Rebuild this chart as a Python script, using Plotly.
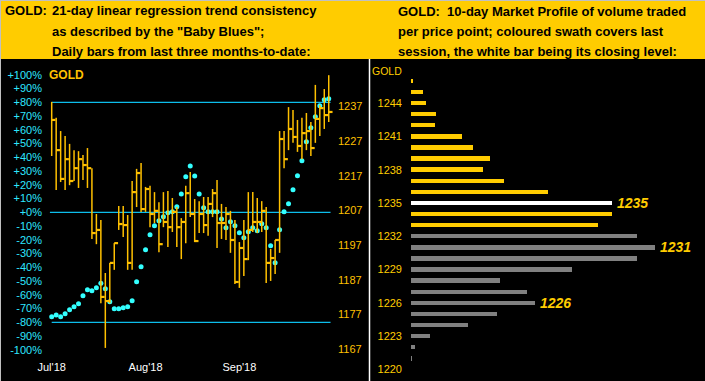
import plotly.graph_objects as go

W, H = 705, 381

# ---------------- data ----------------
months = ["Jul'18", "Aug'18", "Sep'18"]
month_pos = [0, 21, 42]

high = [1238.3, 1233.7, 1229.9, 1228.5, 1226.2, 1224.4, 1224.1, 1223.0, 1225.0, 1219.2,
        1206.0, 1204.3, 1189.0, 1191.9, 1197.6, 1208.3, 1208.3, 1205.7, 1215.5, 1219.0,
        1220.7, 1213.8, 1214.1, 1212.3, 1209.4, 1212.3, 1212.6, 1210.6, 1208.0, 1204.8,
        1214.1, 1218.1, 1210.3, 1209.7, 1210.9, 1210.9, 1213.2, 1215.8, 1208.9, 1208.0,
        1206.9, 1204.3, 1197.9, 1204.3, 1212.3, 1212.3, 1210.6, 1209.7, 1208.0, 1195.9,
        1198.5, 1229.9, 1229.9, 1236.8, 1236.0, 1233.1, 1233.7, 1235.1, 1232.5, 1243.2,
        1237.4, 1242.0, 1246.0]
low = [1222.7, 1212.9, 1215.2, 1212.9, 1214.3, 1215.5, 1213.5, 1215.8, 1213.5, 1198.8,
       1197.3, 1180.3, 1167.4, 1180.3, 1189.9, 1201.4, 1199.4, 1189.9, 1189.9, 1208.0,
       1206.6, 1206.6, 1202.2, 1203.4, 1195.0, 1202.2, 1196.5, 1200.8, 1196.5, 1193.0,
       1197.6, 1205.1, 1197.9, 1200.5, 1200.5, 1199.7, 1205.1, 1196.2, 1198.8, 1198.5,
       1194.8, 1185.8, 1184.7, 1188.1, 1192.7, 1200.8, 1200.5, 1200.8, 1186.1, 1186.7,
       1188.7, 1194.8, 1219.2, 1224.4, 1226.5, 1223.9, 1221.8, 1224.4, 1222.7, 1226.5,
       1228.5, 1230.5, 1232.5]
close = [1233.1, 1224.4, 1216.1, 1221.8, 1215.5, 1219.2, 1221.8, 1220.1, 1219.2, 1200.5,
         1201.4, 1182.1, 1180.9, 1191.9, 1197.6, 1203.1, 1202.8, 1191.9, 1212.3, 1217.8,
         1207.4, 1213.2, 1206.0, 1206.9, 1197.3, 1203.7, 1202.2, 1206.6, 1202.2, 1203.7,
         1212.0, 1206.0, 1198.2, 1206.0, 1202.8, 1208.9, 1212.0, 1203.4, 1203.4, 1206.0,
         1198.5, 1186.4, 1196.2, 1193.0, 1201.4, 1203.7, 1203.7, 1206.9, 1191.9, 1193.3,
         1198.5, 1227.6, 1221.8, 1230.5, 1228.2, 1225.6, 1229.3, 1229.9, 1225.0, 1233.4,
         1236.5, 1234.5, 1235.4]
baby_blues = [-75.9, -74.7, -75.9, -73.7, -70.8, -68.7, -66.5, -60.7, -56.3, -57.0,
              -54.8, -51.6, -55.6, -65.0, -70.1, -70.1, -69.4, -68.7, -64.3, -50.5,
              -39.6, -27.2, -16.3, -9.7, -6.1, -3.2, -0.3, 0.4, 4.1, 13.3,
              25.9, 33.7, 26.4, 13.3, 3.3, 0.4, 0.4, 0.4, -4.9, -11.2,
              -6.8, -9.7, -14.8, -18.5, -14.1, -11.2, -13.4, -8.3, -11.2, -24.3,
              -36.7, -12.7, 0.4, 6.3, 16.4, 26.6, 37.5, 51.3, 61.5, 69.5,
              77.5, 81.9, 82.6]
pct_ticks = [100, 90, 80, 70, 60, 50, 40, 30, 20, 10, 0,
             -10, -20, -30, -40, -50, -60, -70, -80, -90, -100]
price_ticks = [1167, 1177, 1187, 1197, 1207, 1217, 1227, 1237]
band_levels = [80, 0, -80]

mp_prices = [1246, 1245, 1244, 1243, 1242, 1241, 1240, 1239, 1238, 1237, 1236, 1235, 1234,
             1233, 1232, 1231, 1230, 1229, 1228, 1227, 1226, 1225, 1224, 1223, 1222, 1221]
mp_volume = [2, 12, 15, 25, 24, 51, 62, 79, 72, 93, 137, 201, 201,
             187, 226, 244, 226, 161, 89, 116, 124, 86, 57, 19, 4, 1]
session_low, session_high, session_close = 1233, 1246, 1235
mp_labels = [1235, 1231, 1226]
mp_ticks = [1220, 1223, 1226, 1229, 1232, 1235, 1238, 1241, 1244]

# ---------------- styling ----------------
FONT = "Liberation Sans, Arial, sans-serif"
GOLDC = "#FFC000"
YEL = "#FFCC00"
CYAN_TXT = "#2EE6FF"
CYAN_DOT = "#33FFFF"
CYAN_LINE = "#0DBDEB"


def px_x(p):
    return p / W


def px_y(p):
    return 1 - p / H


fig = go.Figure()

# HLC bars
bx, by, tx, ty = [], [], [], []
for i, (h, l, c) in enumerate(zip(high, low, close)):
    bx += [i, i, None]
    by += [l, h, None]
    tx += [i, i + 0.85, None]
    ty += [c, c, None]
fig.add_trace(go.Scatter(x=bx, y=by, mode="lines", yaxis="y2", xaxis="x",
                         line=dict(color=GOLDC, width=1.5), hoverinfo="skip"))
fig.add_trace(go.Scatter(x=tx, y=ty, mode="lines", yaxis="y2", xaxis="x",
                         line=dict(color=GOLDC, width=2.2), hoverinfo="skip"))

# band lines
for lv in band_levels:
    fig.add_trace(go.Scatter(x=[-0.4 if lv == 0 else 0, 62.4], y=[lv, lv], mode="lines",
                             xaxis="x", yaxis="y", line=dict(color=CYAN_LINE, width=1.2),
                             hoverinfo="skip"))

# baby blues
fig.add_trace(go.Scatter(x=list(range(len(baby_blues))), y=baby_blues, mode="markers",
                         xaxis="x", yaxis="y",
                         marker=dict(color=CYAN_DOT, size=5, line=dict(width=0))))

# market profile
colors = []
for p in mp_prices:
    if p == session_close:
        colors.append("#FFFFFF")
    elif session_low <= p <= session_high:
        colors.append(YEL)
    else:
        colors.append("#808080")
fig.add_trace(go.Bar(x=mp_volume, y=mp_prices, orientation="h", xaxis="x3", yaxis="y3",
                     width=0.4, marker=dict(color=colors, line=dict(width=0))))

pct_text = [("+%d%%" % v) if v >= 0 else ("%d%%" % v) for v in pct_ticks]

fig.update_layout(
    width=W, height=H, autosize=False,
    margin=dict(l=0, r=0, t=0, b=0, pad=0),
    paper_bgcolor="#000000", plot_bgcolor="#000000",
    showlegend=False, bargap=0,
    font=dict(family=FONT),
    xaxis=dict(domain=[px_x(45), px_x(335)], range=[-1.5, 63.4], anchor="y",
               automargin=False,
               tickvals=month_pos, ticktext=months, showgrid=False, zeroline=False,
               showline=False, ticks="", tickfont=dict(color="#FFFFFF", size=11),
               ticklabelstandoff=3),
    yaxis=dict(domain=[px_y(356), px_y(62)], range=[-104.51, 109.31], anchor="x",
               automargin=False,
               tickvals=pct_ticks, ticktext=pct_text, showgrid=False, zeroline=False,
               showline=False, ticks="", tickfont=dict(color=CYAN_TXT, size=11),
               ticklabelstandoff=2),
    yaxis2=dict(overlaying="y", side="right", anchor="x", range=[1165.07, 1249.80],
                automargin=False,
                tickvals=price_ticks, showgrid=False, zeroline=False, showline=False,
                ticks="", tickfont=dict(color=GOLDC, size=11), ticklabelstandoff=2),
    xaxis3=dict(domain=[px_x(411), px_x(700)], range=[0, 289], anchor="y3",
                automargin=False,
                showgrid=False, zeroline=False, showline=False, showticklabels=False,
                ticks=""),
    yaxis3=dict(domain=[px_y(380), px_y(62)], range=[1219.05, 1247.70], anchor="x3",
                automargin=False,
                tickvals=mp_ticks, showgrid=False, zeroline=False, showline=False,
                ticks="", tickfont=dict(color=YEL, size=11), ticklabelstandoff=8),
)

shapes = [
    dict(type="rect", xref="paper", yref="paper", x0=0, x1=1, y0=px_y(59), y1=1,
         fillcolor=YEL, line=dict(width=0), layer="above"),
    dict(type="line", xref="paper", yref="paper", x0=px_x(369.5), x1=px_x(369.5),
         y0=0, y1=px_y(59), line=dict(color="#FFFFFF", width=1.5), layer="above"),
    dict(type="line", xref="paper", yref="paper", x0=px_x(0.5), x1=px_x(0.5),
         y0=0, y1=1, line=dict(color="#C0C0C0", width=1), layer="above"),
    dict(type="line", xref="paper", yref="paper", x0=0, x1=1,
         y0=px_y(0.5), y1=px_y(0.5), line=dict(color="#C0C0C0", width=1), layer="above"),
]
fig.update_layout(shapes=shapes)

hdr = dict(color="#000000", size=13, family=FONT, weight="bold")
ann = []
ann.append(dict(x=px_x(3), y=px_y(10.5), xref="paper", yref="paper", text="GOLD:",
                showarrow=False, xanchor="left", yanchor="middle", font=hdr))
left_lines = ["21-day linear regression trend consistency",
              "as described by the \"Baby Blues\";",
              "Daily bars from last three months-to-date:"]
for k, t in enumerate(left_lines):
    ann.append(dict(x=px_x(50), y=px_y(10.5 + 20.5 * k), xref="paper", yref="paper",
                    text=t, showarrow=False, xanchor="left", yanchor="middle", font=hdr))
right_lines = ["GOLD:\u00a0 10-day Market Profile of volume traded",
               "per price point; coloured swath covers last",
               "session, the white bar being its closing level:"]
for k, t in enumerate(right_lines):
    ann.append(dict(x=px_x(396), y=px_y(11.5 + 20 * k), xref="paper", yref="paper",
                    text=t, showarrow=False, xanchor="left", yanchor="middle", font=hdr))
ann.append(dict(x=px_x(47), y=px_y(75), xref="paper", yref="paper", text="GOLD",
                showarrow=False, xanchor="left", yanchor="middle",
                font=dict(color=GOLDC, size=12, family=FONT, weight="bold")))
ann.append(dict(x=px_x(404), y=px_y(71), xref="paper", yref="paper", text="GOLD",
                showarrow=False, xanchor="right", yanchor="middle",
                font=dict(color=YEL, size=10.5, family=FONT)))
for lp in mp_labels:
    v = mp_volume[mp_prices.index(lp)]
    ann.append(dict(x=v, y=lp, xref="x3", yref="y3", text=str(lp), showarrow=False,
                    xanchor="left", yanchor="middle", xshift=3,
                    font=dict(color=YEL, size=14, family=FONT, weight="bold",
                              style="italic")))
fig.update_layout(annotations=ann)

fig.write_html("out.html",
               config={"displayModeBar": False},
               post_script="document.body.style.margin='0px';"
                           "document.body.style.overflow='hidden';")
